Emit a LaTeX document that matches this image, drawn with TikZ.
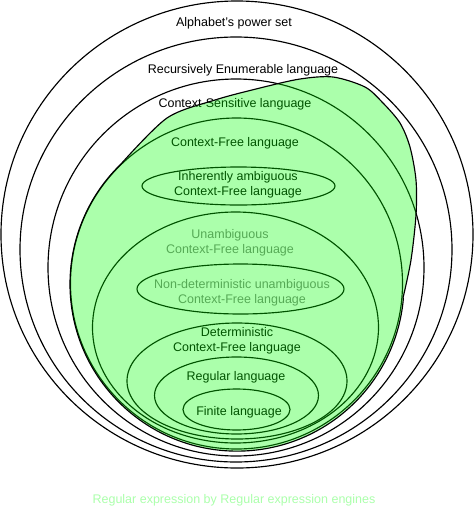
\documentclass[tikz,border=0pt]{standalone}
\usepackage{fontspec}
\setmainfont{Liberation Sans}
\usepackage{tikz}

\begin{document}
\begin{tikzpicture}[x=1pt,y=-1pt,
	langset/.style={draw=black,line width=1.15pt},
	lbl/.style={font=\fontsize{12.5}{15}\selectfont,align=center,inner sep=0pt},
	greylbl/.style={lbl,text=black!50},
	regex/.style={fill=green,fill opacity=0.33,draw=black,line width=1.15pt}]
	\useasboundingbox (0,0) rectangle (474,507);
	% nested language classes
	\draw[langset] (237,234.5) ellipse [x radius=236,y radius=233.5];
	\draw[langset] (236,249.5) ellipse [x radius=216,y radius=212.5];
	\draw[langset] (236,267.5) ellipse [x radius=188,y radius=188.5];
	\draw[langset] (236.5,283.5) ellipse [x radius=166,y radius=165.5];
	\draw[langset] (238.5,186) ellipse [x radius=96.5,y radius=19];
	\draw[langset] (235.5,327.5) ellipse [x radius=143,y radius=115.5];
	\draw[langset] (240.5,289) ellipse [x radius=103.5,y radius=25];
	\draw[langset] (237,381) ellipse [x radius=110,y radius=58];
	\draw[langset] (236.5,395.5) ellipse [x radius=82,y radius=38.5];
	\draw[langset] (236.5,409.5) ellipse [x radius=53.5,y radius=20.5];
	\node[lbl] (powerset) at (234,23.5) {Alphabet's power set};
	\node[lbl] (recenum) at (243,70.5) {Recursively Enumerable language};
	\node[lbl] (ctxsens) at (235,104.5) {Context-Sensitive language};
	\node[lbl] (ctxfree) at (235,143.5) {Context-Free language};
	\node[lbl] (inhamb) at (238,185) {Inherently ambiguous\\Context-Free language};
	\node[greylbl] (unamb) at (230,242.5) {Unambiguous\\Context-Free language};
	\node[greylbl] (nondet) at (242,292.5) {Non-deterministic unambiguous\\Context-Free language};
	\node[lbl] (determ) at (237,341) {Deterministic\\Context-Free language};
	\node[lbl] (regular) at (236,377.5) {Regular language};
	\node[lbl] (finite) at (239,412.5) {Finite language};
	% what regex engines accept
	\filldraw[regex] (121,164) arc [start angle=134,end angle=355,radius=167pt]
		-- plot[smooth] coordinates {(403,298) (411,260) (416,215) (416,180) (410,147) (400,123) (383,103) (365,87) (333,77) (300,79) (260,88) (215,100) (167,118) (121,164)}
		-- cycle;
	\node[lbl,text=green,text opacity=0.33] (regexnote) at (234,500) {Regular expression by Regular expression engines};
\end{tikzpicture}
\end{document}
